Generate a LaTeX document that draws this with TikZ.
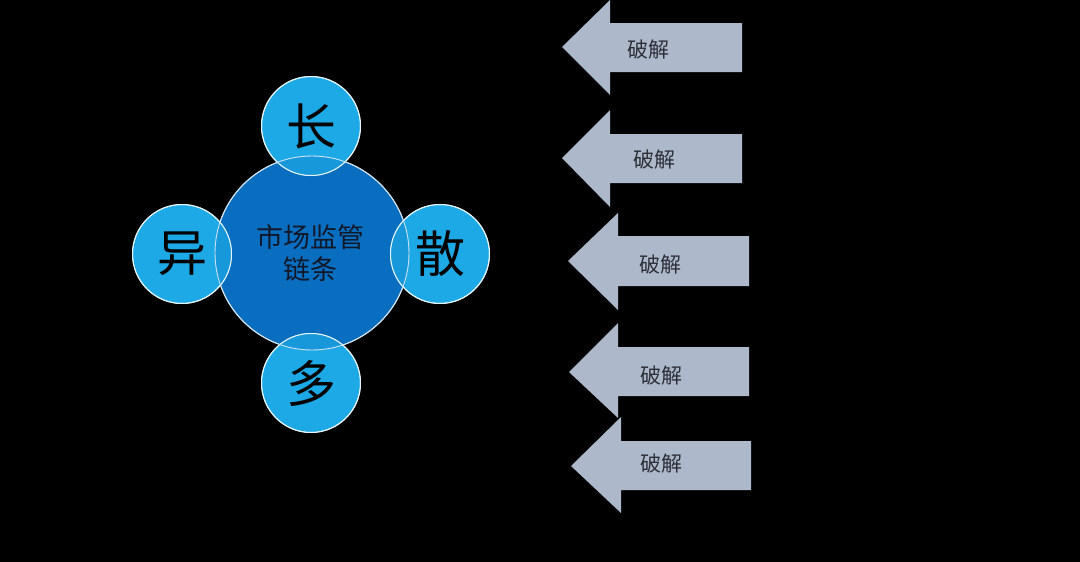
\documentclass[tikz,border=0pt]{standalone}
\usepackage{fontspec}
\newfontfamily\cjk{Noto Sans CJK SC}
\definecolor{bigblue}{HTML}{0A6EC0}
\definecolor{smallblue}{HTML}{1CA9E6}
\definecolor{overlapblue}{HTML}{1798DA}
\definecolor{arrowgrey}{HTML}{ADB9CA}
\definecolor{darktext}{HTML}{10182A}
\definecolor{greytext}{HTML}{2B2F38}
\tikzset{
  bigc/.style={circle, fill=bigblue, draw=white!85!bigblue, line width=1pt, minimum size=194pt, inner sep=0pt},
  smallc/.style={circle, fill=smallblue, draw=white!90!smallblue, line width=1pt, minimum size=99pt, inner sep=0pt},
  bigchar/.style={font=\cjk\fontsize{50}{54}\selectfont, text=black, inner sep=0pt},
  blockarrow/.style={fill=arrowgrey},
  arrowtext/.style={font=\cjk\fontsize{21}{24}\selectfont, text=greytext, inner sep=0pt}
}
\begin{document}
\begin{tikzpicture}[x=1pt,y=-1pt]
\fill[black] (0,0) rectangle (1080,562);
\useasboundingbox (0,0) rectangle (1080,562);
% central circle
\node[bigc] (center) at (312,253) {};
% small circles
\node[smallc] (chang) at (311,126) {};
\node[smallc] (yi) at (182,254) {};
\node[smallc] (san) at (440,254) {};
\node[smallc] (duo) at (311,383) {};
% overlaps
\begin{scope}
\clip (312,253) circle (97pt);
\foreach \p in {(311,126),(182,254),(440,254),(311,383)}
  \fill[overlapblue] \p circle (49.5pt);
\end{scope}
\foreach \p in {(311,126),(182,254),(440,254),(311,383)}
  \draw[white!88!smallblue, line width=1pt] \p circle (49.5pt);
\draw[white!80!bigblue, line width=0.9pt] (312,253) circle (97pt);
% characters
\node[bigchar] (tchang) at (chang) {长};
\node[bigchar] (tyi) at (yi) {异};
\node[bigchar] (tsan) at (san) {散};
\node[bigchar] (tduo) at (duo) {多};
\node[font=\cjk\fontsize{27}{32}\selectfont, text=darktext, align=center] (label) at (310,253) {市场监管\\链条};
% block arrows
\fill[blockarrow] (562,47) -- (610,0) -- (610,23) -- (742,23) -- (742,72) -- (610,72) -- (610,95) -- cycle;
\node[arrowtext] (a1) at (648,50) {破解};
\fill[blockarrow] (562,158) -- (610,110) -- (610,134) -- (742,134) -- (742,183) -- (610,183) -- (610,207) -- cycle;
\node[arrowtext] (a2) at (654,160) {破解};
\fill[blockarrow] (568,261) -- (618,213) -- (618,236) -- (749,236) -- (749,286) -- (618,286) -- (618,310) -- cycle;
\node[arrowtext] (a3) at (660,265) {破解};
\fill[blockarrow] (569,372) -- (618,323) -- (618,347) -- (749,347) -- (749,396) -- (618,396) -- (618,418) -- cycle;
\node[arrowtext] (a4) at (661,376) {破解};
\fill[blockarrow] (571,466) -- (621,417) -- (621,441) -- (751,441) -- (751,490) -- (621,490) -- (621,513) -- cycle;
\node[arrowtext] (a5) at (661,464) {破解};
\end{tikzpicture}
\end{document}
